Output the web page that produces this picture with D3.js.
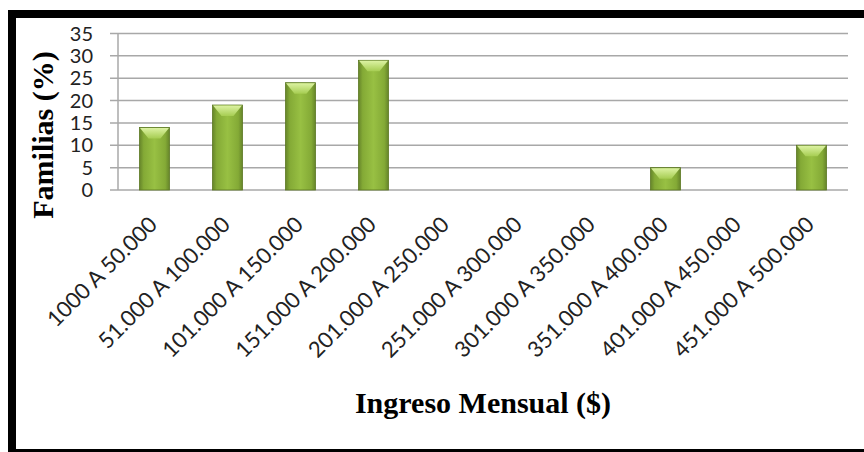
<!DOCTYPE html>
<html>
<head>
<meta charset="utf-8">
<script src="https://cdn.jsdelivr.net/npm/d3@7"></script>
<style>
    body { margin: 0; background: #fff; }
    .tick-y { font: 20px Lato, sans-serif; fill: #222; }
    .tick-x { font: 22px Lato, sans-serif; fill: #222; }
    .title { font: bold 30px "Liberation Serif", "Times New Roman", serif; fill: #000; }
    .grid { stroke: #a8a8a8; stroke-width: 1.5px; }
</style>
</head>
<body>
<script>

    var categories = ["1000 A 50.000", "51.000 A 100.000", "101.000 A 150.000", "151.000 A 200.000",
        "201.000 A 250.000", "251.000 A 300.000", "301.000 A 350.000", "351.000 A 400.000",
        "401.000 A 450.000", "451.000 A 500.000"];
    var values = [14, 19, 24, 29, 0, 0, 0, 5, 0, 10];
    var yTicks = [0, 5, 10, 15, 20, 25, 30, 35];

    var width = 864, height = 452;
    var plotLeft = 118, plotRight = 848, plotTop = 33.5, plotBottom = 190;

    var svg = d3.select("body").append("svg")
        .attr("width", width)
        .attr("height", height);

    svg.append("rect").attr("width", width).attr("height", height).attr("fill", "#fff");

    var defs = svg.append("defs");
    var g1 = defs.append("linearGradient").attr("id", "barBody").attr("x1", 0).attr("x2", 1).attr("y1", 0).attr("y2", 0);
    [["0%", "#66852a"], ["14%", "#84aa36"], ["50%", "#98c043"], ["86%", "#84aa36"], ["100%", "#66852a"]]
        .forEach(function (s) { g1.append("stop").attr("offset", s[0]).attr("stop-color", s[1]); });
    var g2 = defs.append("linearGradient").attr("id", "barTop").attr("x1", 0).attr("x2", 0).attr("y1", 0).attr("y2", 1);
    [["0%", "#dcf2a2"], ["100%", "#a6cd52"]]
        .forEach(function (s) { g2.append("stop").attr("offset", s[0]).attr("stop-color", s[1]); });

    var x = d3.scaleBand()
        .domain(categories)
        .range([plotLeft, plotRight])
        .paddingInner(0.59)
        .paddingOuter(0.295);

    var y = d3.scaleLinear().domain([0, 35]).range([plotBottom, plotTop]);

    // gridlines + ticks
    svg.append("g").selectAll("line")
        .data(yTicks)
        .enter().append("line")
        .attr("class", "grid")
        .attr("x1", plotLeft - 8).attr("x2", plotRight)
        .attr("y1", function (d) { return y(d); })
        .attr("y2", function (d) { return y(d); });

    svg.append("line").attr("class", "grid")
        .attr("x1", plotLeft).attr("x2", plotLeft)
        .attr("y1", plotTop).attr("y2", plotBottom);

    svg.append("g").selectAll("text")
        .data(yTicks)
        .enter().append("text")
        .attr("class", "tick-y")
        .attr("text-anchor", "end")
        .attr("x", 93)
        .attr("y", function (d) { return y(d) + 7; })
        .text(function (d) { return d; });

    // bars
    var bars = svg.append("g").selectAll("g")
        .data(values.map(function (v, i) { return {cat: categories[i], v: v}; }).filter(function (d) { return d.v > 0; }))
        .enter().append("g");

    bars.append("rect")
        .attr("x", function (d) { return x(d.cat); })
        .attr("y", function (d) { return y(d.v); })
        .attr("width", x.bandwidth())
        .attr("height", function (d) { return plotBottom - y(d.v); })
        .attr("fill", "url(#barBody)")
        .attr("stroke", "#5a7720")
        .attr("stroke-width", 0.8);

    bars.append("path")
        .attr("fill", "url(#barTop)")
        .attr("d", function (d) {
            var x0 = x(d.cat), x1 = x0 + x.bandwidth(), t = y(d.v);
            var b = Math.min(11, (plotBottom - t) / 2);
            return "M" + (x0 + 0.5) + "," + (t + 0.5) + "L" + (x1 - 0.5) + "," + (t + 0.5) + "L" + (x1 - 9) + "," + (t + b) +
                "L" + (x0 + 9) + "," + (t + b) + "Z";
        });

    // x labels
    svg.append("g").selectAll("text")
        .data(categories)
        .enter().append("text")
        .attr("class", "tick-x")
        .attr("text-anchor", "end")
        .attr("transform", function (d) {
            return "translate(" + (x(d) + x.bandwidth() / 2 + 4) + "," + 226 + ") rotate(-45)";
        })
        .text(function (d) { return d; });

    // titles
    svg.append("text")
        .attr("class", "title")
        .attr("text-anchor", "middle")
        .attr("transform", "translate(53,135) rotate(-90)")
        .text("Familias (%)");

    svg.append("text")
        .attr("class", "title")
        .attr("text-anchor", "middle")
        .attr("x", (plotLeft + plotRight) / 2)
        .attr("y", 413)
        .text("Ingreso Mensual ($)");

    // frame
    svg.append("rect").attr("x", 8).attr("y", 10).attr("width", width - 8).attr("height", 8).attr("fill", "#000");
    svg.append("rect").attr("x", 8).attr("y", 10).attr("width", 8).attr("height", height - 10).attr("fill", "#000");
    svg.append("rect").attr("x", 8).attr("y", 449).attr("width", width - 8).attr("height", 3).attr("fill", "#000");

</script>
</body>
</html>
